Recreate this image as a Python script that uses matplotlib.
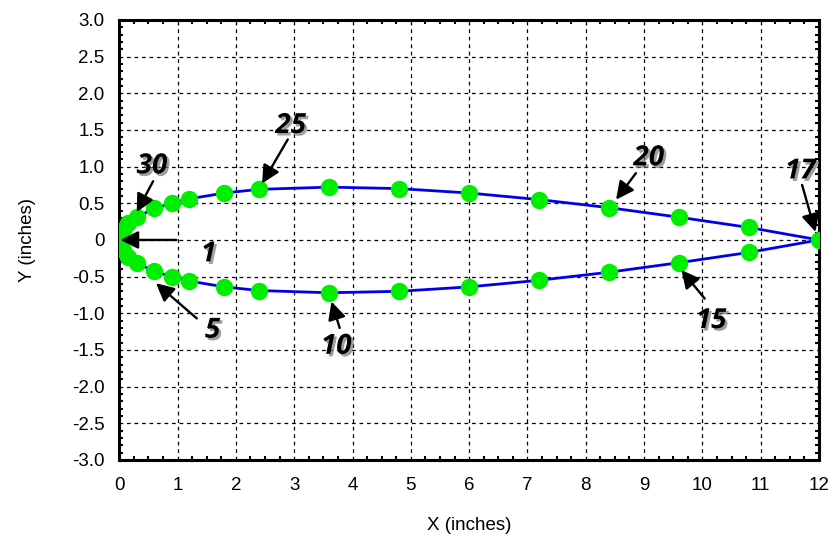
import matplotlib
matplotlib.use("Agg")
import matplotlib.pyplot as plt
import matplotlib.patheffects as pe
from matplotlib.ticker import MultipleLocator, FixedLocator

# Airfoil point data (inches), points numbered 1..33
x_pts = [0.0, 0.06, 0.15, 0.3, 0.6, 0.9, 1.2, 1.8, 2.4, 3.6, 4.8, 6.0, 7.2, 8.4, 9.6, 10.8, 12.0,
         10.8, 9.6, 8.4, 7.2, 6.0, 4.8, 3.6, 2.4, 1.8, 1.2, 0.9, 0.6, 0.3, 0.15, 0.06, 0.0]
y_pts = [0.0, -0.14, -0.23, -0.31, -0.43, -0.50, -0.56, -0.64, -0.69, -0.72, -0.70, -0.64, -0.55, -0.44, -0.31, -0.17, 0.0,
         0.17, 0.31, 0.44, 0.55, 0.64, 0.70, 0.72, 0.69, 0.64, 0.56, 0.50, 0.43, 0.31, 0.23, 0.14, 0.0]

# Annotations: label, text position, arrow tail, arrow tip
ann_labels = ["30", "1", "5", "25", "10", "20", "15", "17"]
ann_text = [(0.56, 1.01), (1.53, -0.19), (1.60, -1.23), (2.94, 1.56), (3.72, -1.45), (9.08, 1.12), (10.15, -1.10), (11.68, 0.94)]
ann_tail = [(0.58, 0.80), (0.98, 0.0), (1.33, -1.07), (2.89, 1.37), (3.78, -1.20), (8.86, 0.91), (10.04, -0.80), (11.71, 0.75)]
ann_tip = [(0.30, 0.38), (0.02, 0.0), (0.63, -0.59), (2.45, 0.77), (3.64, -0.84), (8.52, 0.55), (9.64, -0.41), (11.94, 0.11)]

x_ticks = list(range(0, 13))
y_ticks = [-3.0, -2.5, -2.0, -1.5, -1.0, -0.5, 0.0, 0.5, 1.0, 1.5, 2.0, 2.5, 3.0]
y_tick_labels = ["-3.0", "-2.5", "-2.0", "-1.5", "-1.0", "-0.5", "0", "0.5", "1.0", "1.5", "2.0", "2.5", "3.0"]

plt.rcParams['font.family'] = ['Liberation Sans', 'DejaVu Sans']

fig = plt.figure(figsize=(8.34, 5.38), dpi=100)
ax = fig.add_axes([0.143, 0.145, 0.839, 0.818])

ax.plot(x_pts, y_pts, color='#0000E8', lw=2.0, zorder=3)
ax.plot(x_pts, y_pts, ls='none', marker='o', ms=11.5, mfc='#00EE00', mec='#00EE00', zorder=4)

ax.set_xlim(0, 12)
ax.set_ylim(-3, 3)
ax.xaxis.set_major_locator(FixedLocator(x_ticks))
ax.yaxis.set_major_locator(FixedLocator(y_ticks))
ax.set_yticklabels(y_tick_labels)
ax.xaxis.set_minor_locator(MultipleLocator(0.25))
ax.yaxis.set_minor_locator(MultipleLocator(0.1))
ax.tick_params(which='both', direction='in', top=True, right=True, labelsize=13.5, colors='black')
ax.tick_params(axis='x', which='major', length=0, pad=12)
ax.tick_params(axis='y', which='major', length=0, pad=10.5)
ax.tick_params(which='minor', length=3, width=1.5)
ax.grid(True, which='major', color='black', ls=(0, (3, 3)), lw=0.9)
for s in ax.spines.values():
    s.set_linewidth(2.2)

ax.set_xlabel("X (inches)", fontsize=13.5, labelpad=17)
ax.set_ylabel("Y (inches)", fontsize=13.5, labelpad=26)

shadow = [pe.withSimplePatchShadow(offset=(1.8, -1.8), shadow_rgbFace='#777777', alpha=0.7)]
for lab, tpos, tail, tip in zip(ann_labels, ann_text, ann_tail, ann_tip):
    ax.text(tpos[0], tpos[1], lab, fontsize=20, fontweight='bold', fontstyle='italic',
            family=['Open Sans', 'DejaVu Sans'], ha='center', va='center', zorder=6,
            path_effects=shadow)
    ax.annotate("", xy=tip, xytext=tail,
                arrowprops=dict(arrowstyle='-|>', color='black', lw=1.7, mutation_scale=27,
                                shrinkA=0, shrinkB=0), zorder=6)

fig.savefig("out.png", dpi=100)
